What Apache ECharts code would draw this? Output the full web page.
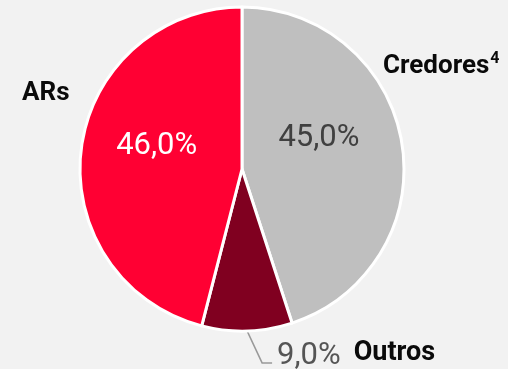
<!DOCTYPE html>
<html>
<head>
<meta charset="utf-8">
<script src="https://cdn.jsdelivr.net/npm/echarts@6/dist/echarts.min.js"></script>
<style>
html,body{margin:0;padding:0;background:#f2f2f2;}
#c{width:508px;height:369px;}
</style>
</head>
<body>
<div id="c"></div>
<script>
const categories = ['Credores', 'Outros', 'ARs'];
const values = [45.0, 9.0, 46.0];
const colors = ['#bfbfbf', '#800020', '#ff0033'];
const pctLabels = ['45,0%', '9,0%', '46,0%'];

const chart = echarts.init(document.getElementById('c'), null, {renderer: 'canvas'});
const font = 'Roboto, sans-serif';

const mainData = categories.map((c, i) => {
  const d = {name: c, value: values[i], itemStyle: {color: colors[i]}};
  if (c === 'Outros') {
    d.label = {
      position: 'outside',
      overflow: 'none',
      formatter: '{p|' + pctLabels[i] + '}{n|Outros}',
      rich: {
        p: {fontSize: 31, fontFamily: font, color: '#555555'},
        n: {fontSize: 27, fontFamily: font, fontWeight: 'bold', color: '#0a0a0a', padding: [0, 0, 6, 13]}
      }
    };
    d.labelLine = {show: true, length: 32, length2: 10, lineStyle: {color: '#999999', width: 1.5}};
  } else {
    d.label = {
      position: 'inside',
      formatter: pctLabels[i],
      fontSize: 31, fontFamily: font,
      color: c === 'ARs' ? '#ffffff' : '#404040'
    };
  }
  return d;
});

const nameData = categories.map((c, i) => {
  const d = {name: c, value: values[i]};
  if (c === 'Credores') {
    d.label = {show: true, formatter: '{n|Credores}{s|4}'};
  } else if (c === 'ARs') {
    d.label = {show: true, formatter: '{n|ARs}'};
  } else {
    d.label = {show: false};
  }
  return d;
});

chart.setOption({
  backgroundColor: '#f2f2f2',
  animation: false,
  series: [
    {
      type: 'pie',
      center: [242, 169],
      radius: [0, 162],
      startAngle: 90,
      clockwise: true,
      itemStyle: {borderColor: '#ffffff', borderWidth: 3},
      label: {show: true},
      labelLine: {show: false},
      labelLayout: function (p) {
        if (p.dataIndex === 0) return {dx: -6, dy: -18};
        if (p.dataIndex === 2) return {dx: -2, dy: -12};
        if (p.dataIndex === 1 && p.labelLinePoints) {
          const a = p.labelLinePoints[0];
          return {
            x: a[0] + 30, y: a[1] + 25, align: 'left', verticalAlign: 'middle',
            labelLinePoints: [a, [a[0] + 15, a[1] + 32], [a[0] + 25, a[1] + 32]]
          };
        }
        return {};
      },
      data: mainData
    },
    {
      type: 'pie',
      center: [242, 169],
      radius: [0, 162],
      startAngle: 90,
      clockwise: true,
      silent: true,
      z: 3,
      itemStyle: {color: 'rgba(0,0,0,0)', borderWidth: 0},
      emphasis: {disabled: true},
      label: {
        position: 'outside',
        overflow: 'none',
        alignTo: 'none',
        rich: {
          n: {fontSize: 26, fontFamily: font, fontWeight: 'bold', color: '#0a0a0a'},
          s: {fontSize: 16, fontFamily: font, fontWeight: 'bold', color: '#0a0a0a', verticalAlign: 'top', padding: [0, 0, 14, 1]}
        }
      },
      labelLine: {show: false},
      labelLayout: function (p) {
        if (p.dataIndex === 0) return {x: 383, y: 66, align: 'left', verticalAlign: 'middle'};
        if (p.dataIndex === 2) return {x: 22, y: 93, align: 'left', verticalAlign: 'middle'};
        return {};
      },
      data: nameData
    }
  ]
});
</script>
</body>
</html>
